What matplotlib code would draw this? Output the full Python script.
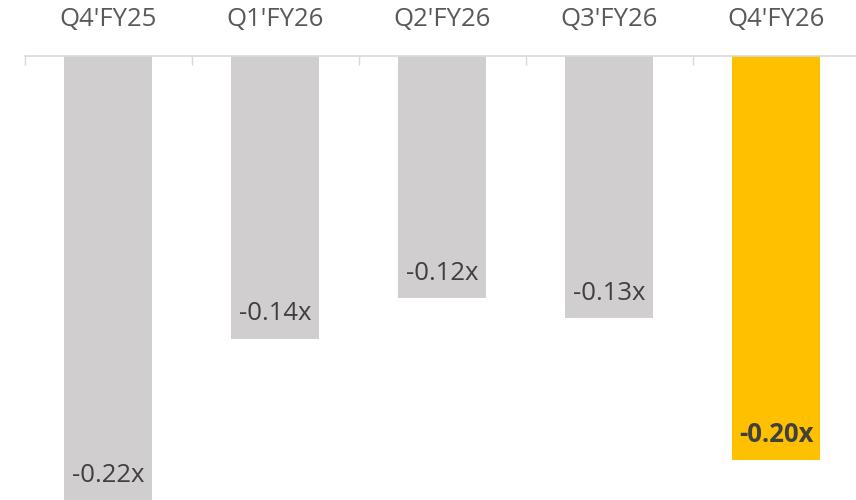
import numpy as np
import matplotlib.pyplot as plt

quarters = ["Q4'FY25", "Q1'FY26", "Q2'FY26", "Q3'FY26", "Q4'FY26"]
values = [-0.22, -0.14, -0.12, -0.13, -0.20]
labels = ["-0.22x", "-0.14x", "-0.12x", "-0.13x", "-0.20x"]
colors = ["#D0CECE", "#D0CECE", "#D0CECE", "#D0CECE", "#FFC000"]

plt.rcParams['font.family'] = ['Open Sans', 'DejaVu Sans']

fig = plt.figure(figsize=(8.56, 5.0), dpi=100)
ax = fig.add_axes([24.5 / 856, 0.0, 835 / 856, 444 / 500])

x = np.arange(len(quarters))
ax.bar(x, values, width=0.53, color=colors, zorder=2)

ax.set_xlim(-0.5, len(quarters) - 0.5)
ax.set_ylim(-0.22, 0)

# category labels along the top, with separator ticks between groups
ax.xaxis.tick_top()
ax.set_xticks(x)
ax.set_xticklabels(quarters, fontsize=18.5, color="#595959")
ax.tick_params(axis='x', which='major', length=0, pad=17)
ax.set_xticks(np.arange(-0.5, len(quarters)), minor=True)
ax.tick_params(axis='x', which='minor', direction='in', length=6.5,
               width=1, color="#D9D9D9", top=True, bottom=False)
ax.set_yticks([])

for side in ['left', 'right', 'bottom']:
    ax.spines[side].set_visible(False)
ax.spines['top'].set_color("#D9D9D9")
ax.spines['top'].set_linewidth(1.2)

for i, (v, t) in enumerate(zip(values, labels)):
    bold = i == len(values) - 1
    ax.annotate(t, xy=(i, v), xytext=(0, 18), textcoords='offset points',
                ha='center', va='center', fontsize=18.5, color="#404040",
                fontweight='bold' if bold else 'normal')

fig.savefig("out.png", dpi=100)
